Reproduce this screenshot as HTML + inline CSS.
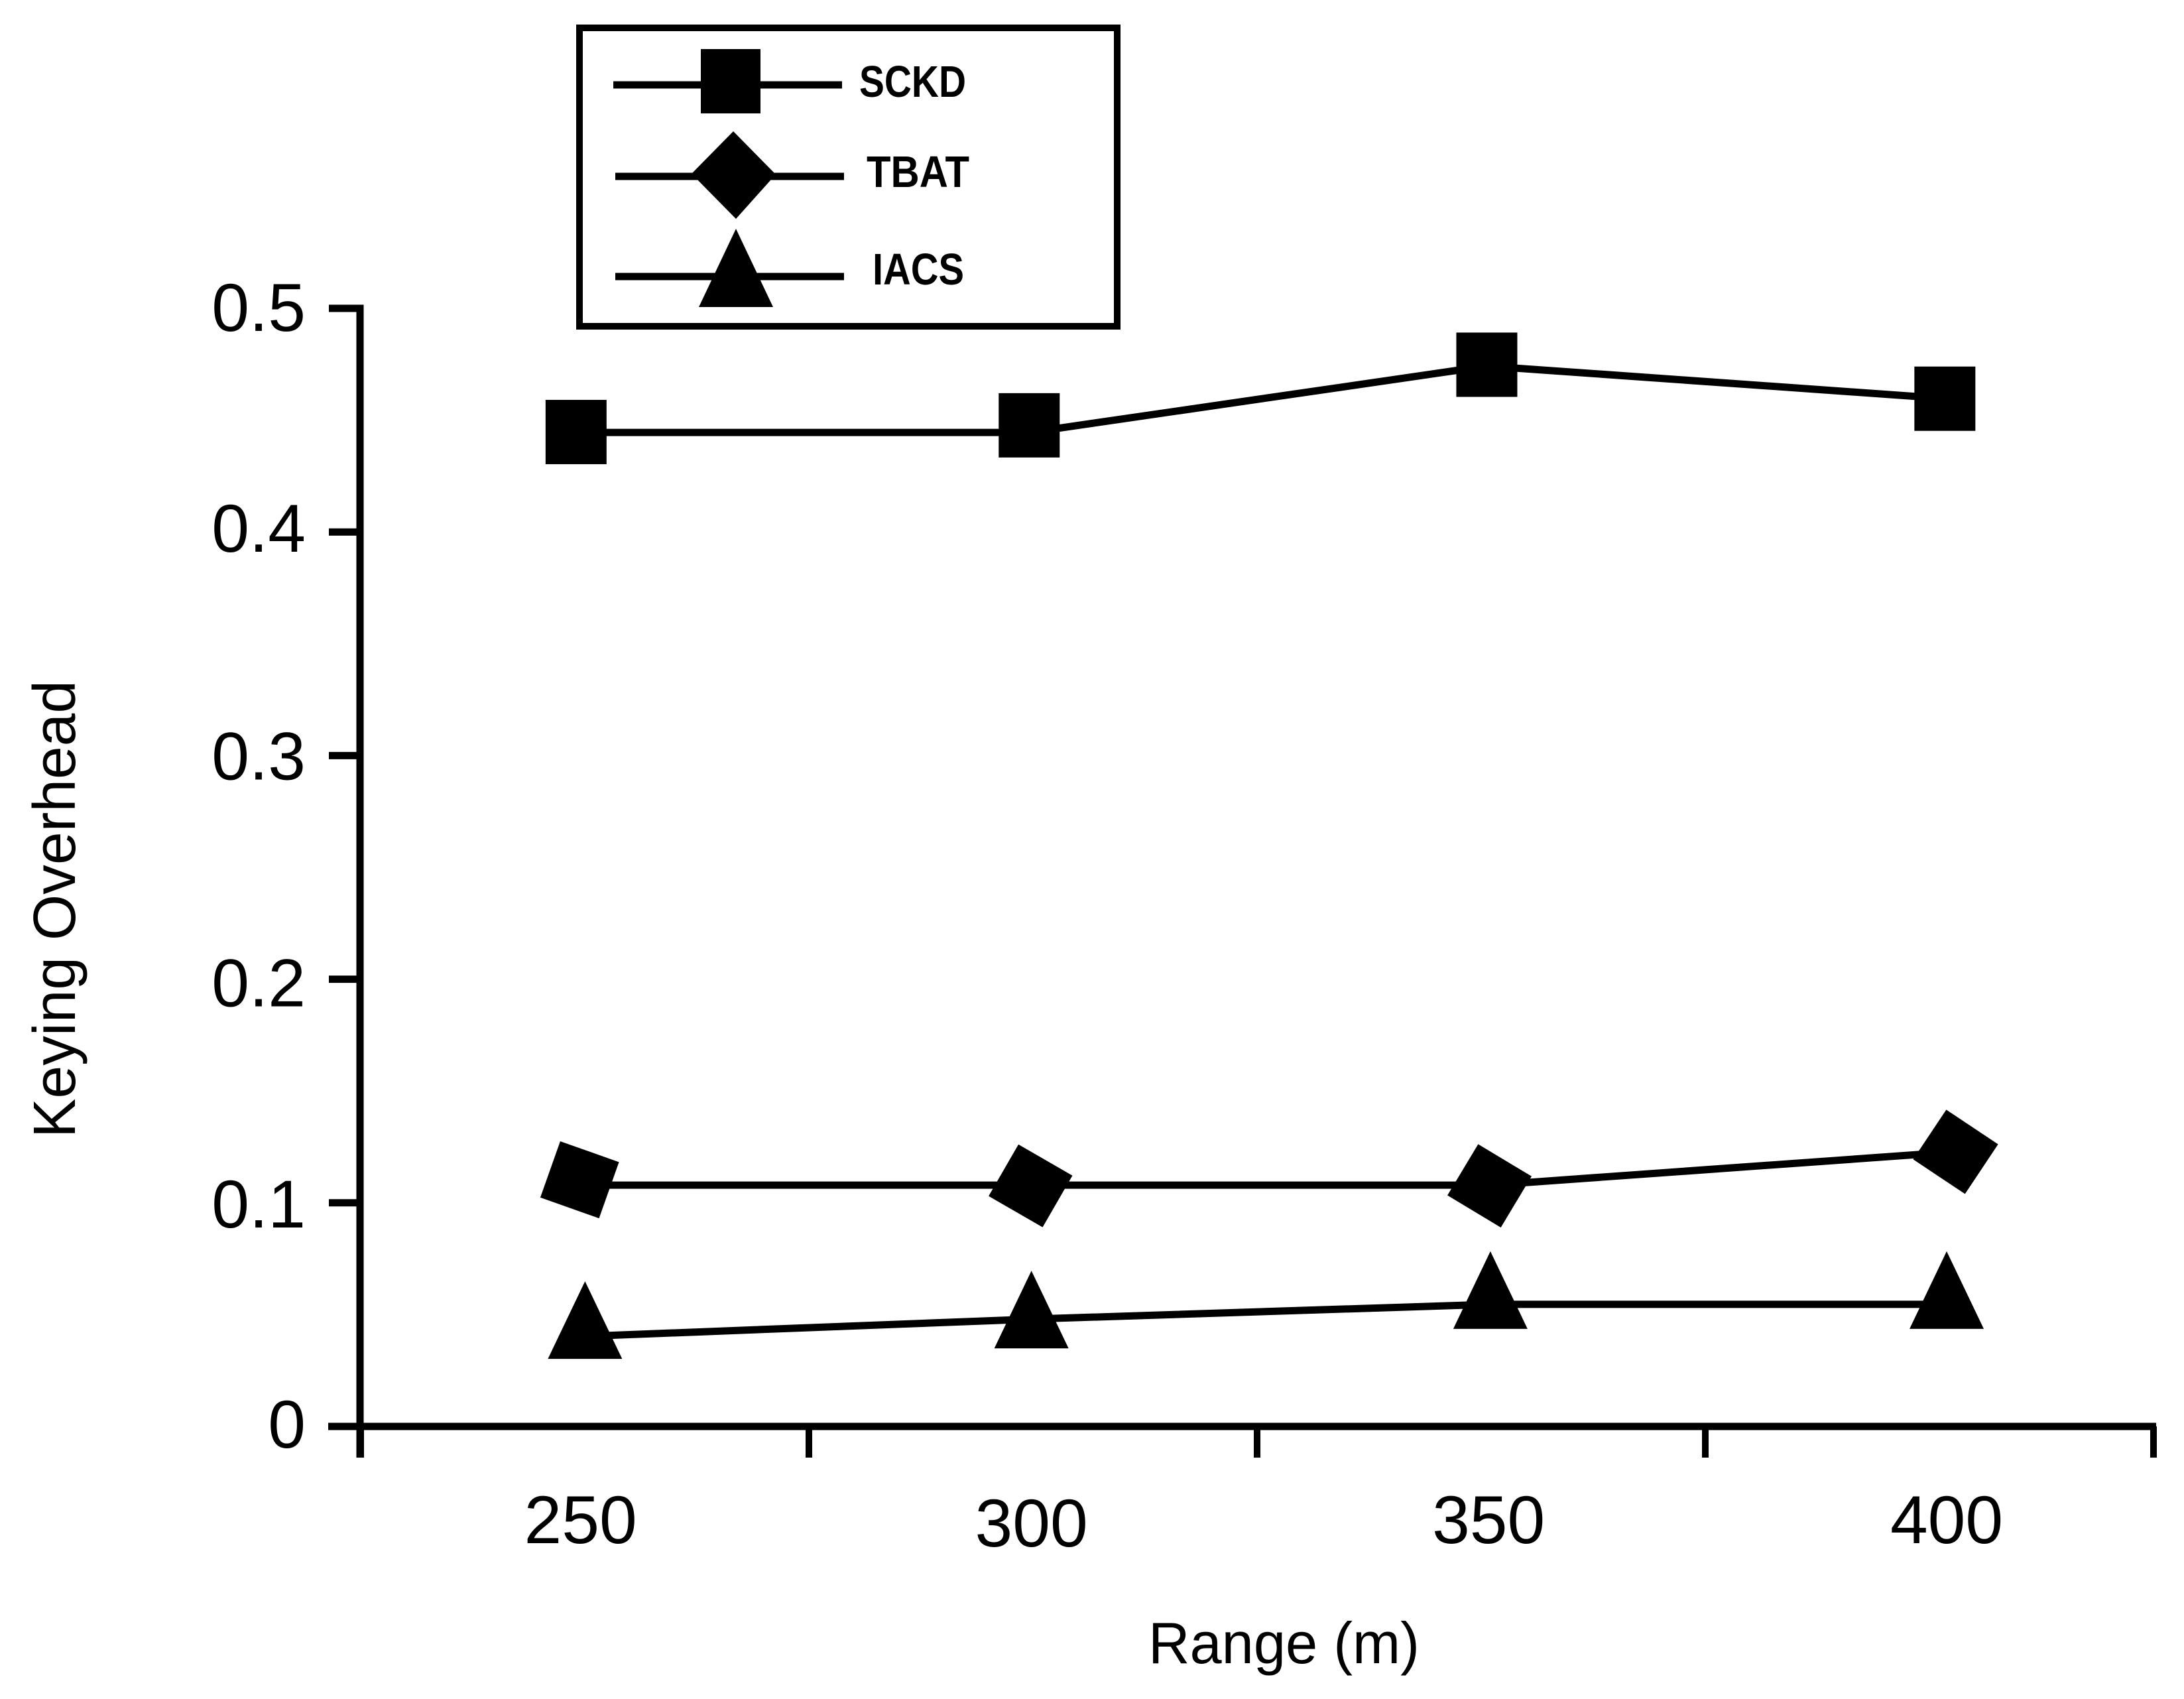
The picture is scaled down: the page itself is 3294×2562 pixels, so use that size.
<!DOCTYPE html>
<html lang="en">
<head>
<meta charset="utf-8">
<title>Keying Overhead vs Range</title>
<style>
  html, body { margin: 0; padding: 0; background: #ffffff; }
  body { width: 3294px; height: 2562px; overflow: hidden; }
  svg { display: block; }
  text { font-family: "Liberation Sans", sans-serif; fill: #000; }
</style>
</head>
<body>
<svg id="chart" xmlns="http://www.w3.org/2000/svg" width="3294" height="2562" viewBox="0 0 3294 2562">
  <rect x="0" y="0" width="3294" height="2562" fill="#ffffff"/>

  <g id="axes"></g>
  <g id="series"></g>

  <text x="1732" y="2508" font-size="88" textLength="409" lengthAdjust="spacingAndGlyphs">Range (m)</text>
  <text transform="translate(113 1716) rotate(-90)" x="0" y="0" font-size="90" textLength="690" lengthAdjust="spacingAndGlyphs">Keying Overhead</text>

  <g>
    <rect x="874" y="42" width="811" height="450" fill="#ffffff" stroke="#000" stroke-width="10"/>
    <g>
      <line x1="925" y1="128" x2="1270" y2="128" stroke="#000" stroke-width="11"/>
      <rect x="1057" y="74" width="90" height="97" fill="#000"/>
      <text x="1296" y="146" font-size="67" font-weight="700" textLength="161" lengthAdjust="spacingAndGlyphs">SCKD</text>
    </g>
    <g>
      <line x1="928" y1="266" x2="1273" y2="266" stroke="#000" stroke-width="11"/>
      <polygon points="1106,198 1170,263 1110,330 1043,262" fill="#000"/>
      <text x="1307" y="282" font-size="67" font-weight="700" textLength="155" lengthAdjust="spacingAndGlyphs">TBAT</text>
    </g>
    <g>
      <line x1="928" y1="417" x2="1273" y2="417" stroke="#000" stroke-width="11"/>
      <polygon points="1110,345 1166,463 1054,463" fill="#000"/>
      <text x="1316" y="429" font-size="67" font-weight="700" textLength="138" lengthAdjust="spacingAndGlyphs">IACS</text>
    </g>
  </g>
</svg>

<script>
// ---- Chart data ----
const yTickValues = [0, 0.1, 0.2, 0.3, 0.4, 0.5];
const yTickLabels = ['0', '0.1', '0.2', '0.3', '0.4', '0.5'];
const yLabelDrop = [32, 37, 41, 36, 30, 34];
const xBoundaryTicks = [225, 275, 325, 375, 425];
const xLabelValues = [249.6, 299.9, 350.9, 402.0];
const xTickLabels = ['250', '300', '350', '400'];
const xLabelDrop = [0, 5, 0, 0];

const sckdRange = [249.1, 299.65, 350.7, 401.8];
const sckdValues = [0.4445, 0.4445, 0.4742, 0.4597];
const sckdMarkerOffset = [0.0002, 0.0032, 0.0006, -0.0001];

const tbatRange = [249.5, 299.8, 351.0, 403.0];
const tbatValues = [0.1079, 0.1079, 0.1079, 0.1228];
const tbatMarkerOffset = [0.0024, -0.0003, -0.0003, 0];
const tbatTilt = [19.5, 30, 31, 33.7];

const iacsRange = [250.1, 299.9, 351.1, 402.0];
const iacsValues = [0.0403, 0.048, 0.0546, 0.0546];
const iacsMarkerOffset = [0.0009, -0.0021, 0, 0];

// ---- Axis functions ----
function xScale(range) { return 543 + (range - 225) * 13.52; }
function yScale(value) { return 2151 - value * 3372; }

const SVG_NS = 'http://www.w3.org/2000/svg';
const axesLayer = document.getElementById('axes');
const seriesLayer = document.getElementById('series');

function make(tag, parent) {
  const el = document.createElementNS(SVG_NS, tag);
  parent.appendChild(el);
  return el;
}

function setLine(el, x1, y1, x2, y2, width) {
  el.setAttribute('x1', x1);
  el.setAttribute('y1', y1);
  el.setAttribute('x2', x2);
  el.setAttribute('y2', y2);
  el.setAttribute('stroke', '#000');
  el.setAttribute('stroke-width', width);
}

// ---- Axes ----
const yAxisLine = make('line', axesLayer);


setLine(yAxisLine, xScale(225), yScale(0.5) - 5.5, xScale(225), 2198, 11);

const xAxisLine = make('line', axesLayer);


setLine(xAxisLine, 495, yScale(0), xScale(425) + 5, yScale(0), 11);

yTickValues.forEach(function (v, i) {
  const tick = make('line', axesLayer);
  
  
  setLine(tick, 496, yScale(v), xScale(225), yScale(v), 11);

  const label = make('text', axesLayer);
  
  
  label.setAttribute('x', 461);
  label.setAttribute('y', yScale(v) + yLabelDrop[i]);
  label.setAttribute('font-size', 102);
  label.setAttribute('text-anchor', 'end');
  label.textContent = yTickLabels[i];
});

xBoundaryTicks.forEach(function (r) {
  const tick = make('line', axesLayer);
  
  
  setLine(tick, xScale(r) + 1, yScale(0), xScale(r) + 1, 2198, 10);
});

xLabelValues.forEach(function (r, i) {
  const label = make('text', axesLayer);
  
  
  label.setAttribute('x', xScale(r));
  label.setAttribute('y', 2327 + xLabelDrop[i]);
  label.setAttribute('font-size', 102);
  label.setAttribute('text-anchor', 'middle');
  label.textContent = xTickLabels[i];
});

// ---- Series ----
function drawLine(ranges, values) {
  const line = make('polyline', seriesLayer);
  
  
  line.setAttribute('fill', 'none');
  line.setAttribute('stroke', '#000');
  line.setAttribute('stroke-width', 11);
  line.setAttribute('stroke-linejoin', 'round');
  line.setAttribute('points', ranges.map(function (r, i) {
    return xScale(r) + ',' + yScale(values[i]);
  }).join(' '));
}

drawLine(sckdRange, sckdValues);
drawLine(tbatRange, tbatValues);
drawLine(iacsRange, iacsValues);

sckdValues.forEach(function (v, i) {
  const cx = xScale(sckdRange[i]);
  const cy = yScale(v + sckdMarkerOffset[i]);
  const mark = make('rect', seriesLayer);
  
  
  mark.setAttribute('x', cx - 46);
  mark.setAttribute('y', cy - 48.5);
  mark.setAttribute('width', 92);
  mark.setAttribute('height', 97);
  mark.setAttribute('fill', '#000');
});

tbatValues.forEach(function (v, i) {
  const cx = xScale(tbatRange[i]);
  const cy = yScale(v + tbatMarkerOffset[i]);
  const mark = make('rect', seriesLayer);
  
  
  mark.setAttribute('x', cx - 47);
  mark.setAttribute('y', cy - 45);
  mark.setAttribute('width', 94);
  mark.setAttribute('height', 90);
  mark.setAttribute('fill', '#000');
  mark.setAttribute('transform', 'rotate(' + tbatTilt[i] + ' ' + cx + ' ' + cy + ')');
});

iacsValues.forEach(function (v, i) {
  const cx = xScale(iacsRange[i]);
  const base = yScale(v + iacsMarkerOffset[i]) + 37;
  const mark = make('polygon', seriesLayer);
  
  
  mark.setAttribute('points', cx + ',' + (base - 117) + ' ' + (cx + 56) + ',' + base + ' ' + (cx - 56) + ',' + base);
  mark.setAttribute('fill', '#000');
});
</script>
</body>
</html>
